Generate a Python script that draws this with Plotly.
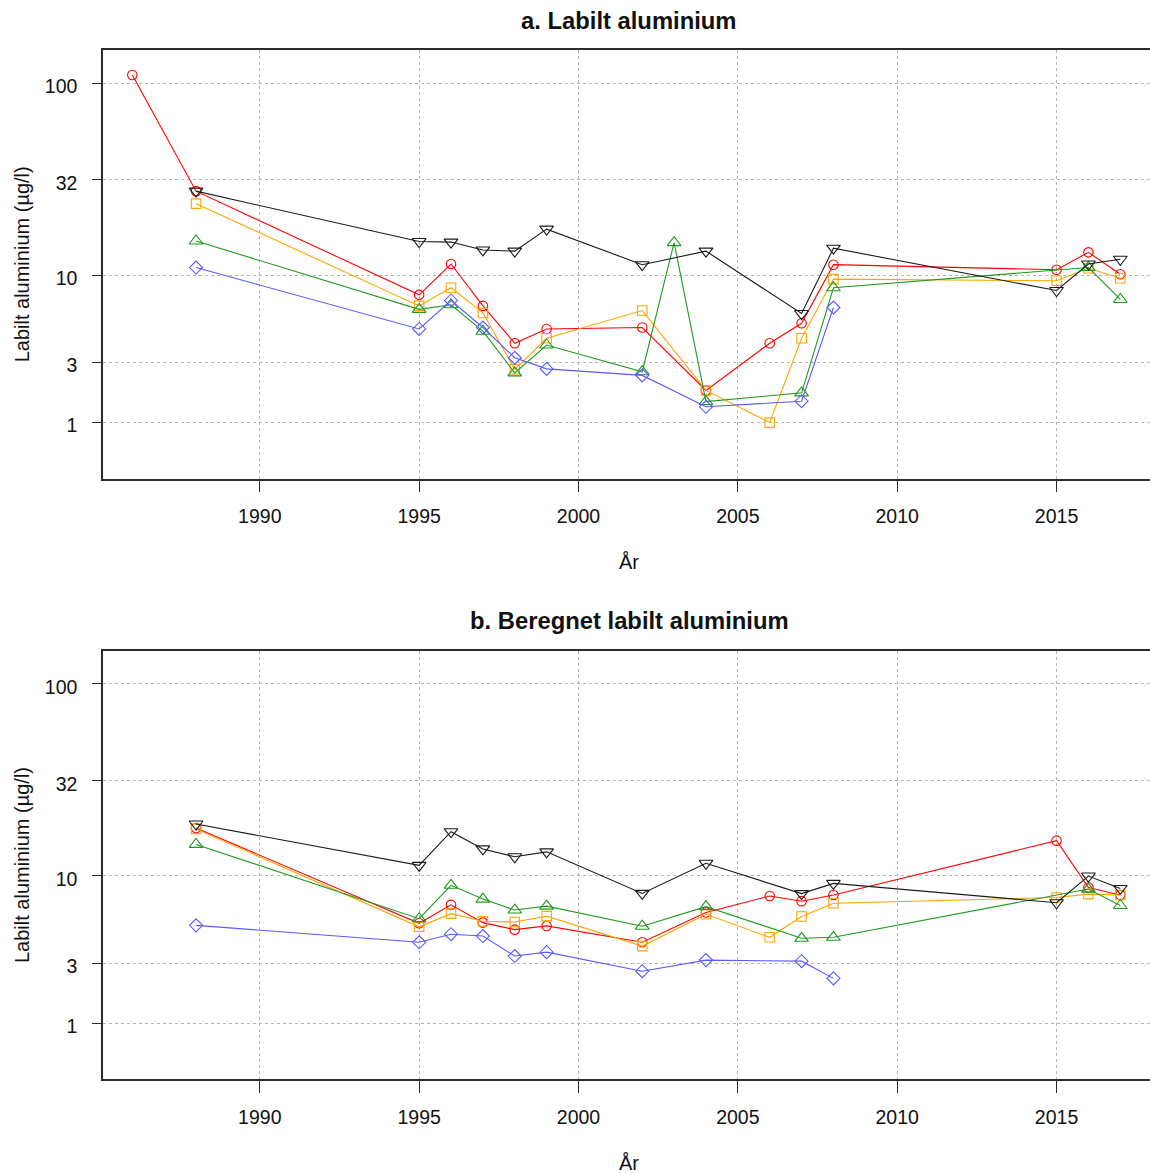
import numpy as np
import plotly.graph_objects as go

# ---- Panel a: Labilt aluminium (µg/l) ----
years_red_a = [1986, 1988, 1995, 1996, 1997, 1998, 1999, 2002, 2004, 2006, 2007, 2008, 2015, 2016, 2017]
red_a = [110, 28, 7.75, 11.5, 6.7, 4.0, 4.9, 5.0, 1.9, 4.0, 5.3, 11.4, 10.7, 13.3, 10.1]

years_orange_a = [1988, 1995, 1996, 1997, 1998, 1999, 2002, 2004, 2006, 2007, 2008, 2015, 2016, 2017]
orange_a = [24.1, 6.7, 8.5, 6.1, 2.7, 4.3, 6.3, 1.9, 1.0, 4.3, 9.5, 9.3, 10.9, 9.6]

years_green_a = [1988, 1995, 1996, 1997, 1998, 1999, 2002, 2003, 2004, 2007, 2008, 2016, 2017]
green_a = [15.3, 6.4, 6.8, 4.75, 2.55, 3.9, 2.6, 15.0, 1.55, 1.82, 8.5, 11.0, 7.3]

years_blue_a = [1988, 1995, 1996, 1997, 1998, 1999, 2002, 2004, 2007, 2008]
blue_a = [11.0, 4.9, 7.2, 5.0, 3.23, 2.72, 2.45, 1.4, 1.56, 6.56]

years_black_a = [1988, 1995, 1996, 1997, 1998, 1999, 2002, 2004, 2007, 2008, 2015, 2016, 2017]
black_a = [28, 15.2, 15.1, 13.7, 13.5, 17.7, 11.4, 13.5, 6.05, 14.0, 8.2, 11.5, 12.2]

# ---- Panel b: Beregnet labilt aluminium (µg/l) ----
years_red_b = [1988, 1995, 1996, 1997, 1998, 1999, 2002, 2004, 2006, 2007, 2008, 2015, 2016, 2017]
red_b = [18.1, 5.35, 6.86, 5.4, 4.9, 5.16, 4.1, 6.2, 7.7, 7.2, 7.8, 15.5, 8.6, 7.8]

years_orange_b = [1988, 1995, 1996, 1997, 1998, 1999, 2002, 2004, 2006, 2007, 2008, 2015, 2016, 2017]
orange_b = [17.9, 5.1, 6.1, 5.5, 5.45, 5.9, 3.88, 6.05, 4.4, 5.87, 7.0, 7.56, 7.9, 7.8]

years_green_b = [1988, 1995, 1996, 1997, 1998, 1999, 2002, 2004, 2007, 2008, 2016, 2017]
green_b = [14.8, 5.7, 8.85, 7.4, 6.4, 6.74, 5.14, 6.7, 4.34, 4.4, 8.43, 6.8]

years_blue_b = [1988, 1995, 1996, 1997, 1998, 1999, 2002, 2004, 2007, 2008]
blue_b = [5.2, 4.1, 4.6, 4.48, 3.35, 3.55, 2.65, 3.15, 3.1, 2.36]

years_black_b = [1988, 1995, 1996, 1997, 1998, 1999, 2002, 2004, 2007, 2008, 2015, 2016, 2017]
black_b = [19.0, 11.4, 17.3, 14.0, 12.7, 13.5, 7.97, 11.7, 7.95, 9.07, 7.05, 9.96, 8.5]

# Axis ticks
x_ticks = [1990, 1995, 2000, 2005, 2010, 2015]
y_ticks = [1, 3, 10, 32, 100]
y_tick_labels = ["1", "3", "10", "32", "100"]

titles = ["a. Labilt aluminium", "b. Beregnet labilt aluminium"]
y_label = "Labilt aluminium (µg/l)"
x_label = "År"

FONT = "Liberation Sans, Arial, sans-serif"
W, H = 1150, 1173
M_L, M_R, M_T, M_B = 103, 0, 50, 93


def tr(v):
    """Values are plotted on a log10(x + 1) scale."""
    return np.log10(np.asarray(v, dtype=float) + 1.0)


# colour, marker symbol, marker size
series_style = [
    ("red", "circle-open", 9.5),
    ("orange", "square-open", 9.5),
    ("#1f9a1f", "triangle-up-open", 12),
    ("#5a5aff", "diamond-open", 10),
    ("#1a1a1a", "triangle-down-open", 12),
]

panel_a = [
    (years_red_a, red_a),
    (years_orange_a, orange_a),
    (years_green_a, green_a),
    (years_blue_a, blue_a),
    (years_black_a, black_a),
]
panel_b = [
    (years_red_b, red_b),
    (years_orange_b, orange_b),
    (years_green_b, green_b),
    (years_blue_b, blue_b),
    (years_black_b, black_b),
]

fig = go.Figure()

for idx, panel in enumerate([panel_a, panel_b]):
    xa = "x" if idx == 0 else "x2"
    ya = "y" if idx == 0 else "y2"
    for (yrs, vals), (col, sym, msize) in zip(panel, series_style):
        fig.add_trace(go.Scatter(
            x=yrs, y=tr(vals), xaxis=xa, yaxis=ya,
            mode="lines+markers",
            line=dict(color=col, width=1.1),
            marker=dict(symbol=sym, size=msize, color=col, line=dict(width=1.1, color=col)),
            showlegend=False, hoverinfo="x+text",
            text=[str(v) for v in vals],
        ))

plot_h = H - M_T - M_B
plot_w = W - M_L - M_R


def py(pix):
    """Pixel row from top -> paper y."""
    return (H - M_B - pix) / plot_h


def px(pix):
    """Pixel column from left -> paper x."""
    return (pix - M_L) / plot_w


panel_px = [(50, 478.7), (650.7, 1079.4)]
x_range = [1985.08, 1985.08 + plot_w / 31.87]
y_range = [0.0194, 2.1708]

axis_common_x = dict(
    range=x_range, tickmode="array", tickvals=x_ticks,
    showgrid=True, gridcolor="#b5b5b5", griddash="dot", gridwidth=1,
    zeroline=False, showline=True, mirror=True, linecolor="#2b2b2b", linewidth=1.5,
    ticks="outside", ticklen=12, tickwidth=1.3, tickcolor="#2b2b2b",
    tickfont=dict(family=FONT, size=19.5, color="#111"),
    ticklabelstandoff=7,
)
axis_common_y = dict(
    range=y_range, tickmode="array", tickvals=list(tr(y_ticks)), ticktext=y_tick_labels,
    showgrid=True, gridcolor="#b5b5b5", griddash="dot", gridwidth=1,
    zeroline=False, showline=True, mirror=False, linecolor="#2b2b2b", linewidth=1.5,
    ticks="outside", ticklen=9, tickwidth=1.3, tickcolor="#2b2b2b",
    tickfont=dict(family=FONT, size=19.5, color="#111"),
    ticklabelstandoff=11, ticklabelshift=3,
)

doms = []
for top, bot in panel_px:
    doms.append([py(bot), py(top)])

fig.update_layout(
    width=W, height=H,
    margin=dict(l=M_L, r=M_R, t=M_T, b=M_B),
    paper_bgcolor="white", plot_bgcolor="white",
    xaxis=dict(axis_common_x, anchor="y"),
    yaxis=dict(axis_common_y, domain=doms[0], anchor="x"),
    xaxis2=dict(axis_common_x, anchor="y2"),
    yaxis2=dict(axis_common_y, domain=doms[1], anchor="x2"),
    font=dict(family=FONT, color="#111"),
)

annotations = []
for i, (top, bot) in enumerate(panel_px):
    cx = px(629)
    annotations.append(dict(
        text="<b>" + titles[i] + "</b>", xref="paper", yref="paper",
        x=cx, y=py(top - 30), xanchor="center", yanchor="middle",
        showarrow=False, font=dict(family=FONT, size=23.8, color="#111"),
    ))
    annotations.append(dict(
        text=x_label, xref="paper", yref="paper",
        x=cx, y=py(bot + 83.5), xanchor="center", yanchor="middle",
        showarrow=False, font=dict(family=FONT, size=20, color="#111"),
    ))
    annotations.append(dict(
        text=y_label, xref="paper", yref="paper",
        x=px(22), y=py((top + bot) / 2), xanchor="center", yanchor="middle",
        textangle=-90, showarrow=False, font=dict(family=FONT, size=20, color="#111"),
    ))
fig.update_layout(annotations=annotations)

fig.write_html("out.html")
